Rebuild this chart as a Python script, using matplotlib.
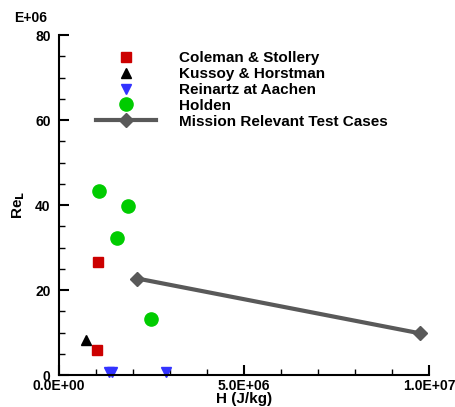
import matplotlib
matplotlib.use("Agg")
import matplotlib.pyplot as plt
from matplotlib.ticker import MultipleLocator, FuncFormatter

plt.rcParams['font.family'] = ['Liberation Sans', 'DejaVu Sans']
plt.rcParams['font.weight'] = 'bold'

# enthalpy H (J/kg) and Reynolds number Re_L (millions)
coleman_h = [1.06e6, 1.04e6]
coleman_re = [26.5, 6.0]
kussoy_h = [0.74e6]
kussoy_re = [8.2]
reinartz_h = [1.34e6, 1.42e6, 2.89e6]
reinartz_re = [0.7, 0.7, 0.7]
holden_h = [1.08e6, 1.87e6, 1.57e6, 2.49e6]
holden_re = [43.4, 39.8, 32.2, 13.1]
mission_h = [2.12e6, 9.76e6]
mission_re = [22.7, 9.8]

fig = plt.figure(figsize=(4.56, 4.07), dpi=100)
ax = fig.add_axes([0.1294, 0.0786, 0.8114, 0.8354])

ax.plot(coleman_h, coleman_re, 's', color='#cc0000', ms=6.5, ls='none',
        label='Coleman & Stollery', clip_on=False)
ax.plot(kussoy_h, kussoy_re, '^', color='black', ms=7.5, ls='none',
        label='Kussoy & Horstman', clip_on=False)
ax.plot(reinartz_h, reinartz_re, 'v', color='#3333ff', ms=7.5, ls='none',
        label='Reinartz at Aachen', clip_on=False)
ax.plot(holden_h, holden_re, 'o', color='#00cc00', ms=9.5, ls='none',
        label='Holden', clip_on=False)
ax.plot(mission_h, mission_re, 'D-', color='#595959', ms=7, lw=3,
        label='Mission Relevant Test Cases', clip_on=False)

ax.set_xlim(0, 1.0e7)
ax.set_ylim(0, 80)
ax.xaxis.set_major_locator(MultipleLocator(5e6))
ax.xaxis.set_minor_locator(MultipleLocator(1e6))
ax.yaxis.set_major_locator(MultipleLocator(20))
ax.yaxis.set_minor_locator(MultipleLocator(5))

ax.xaxis.set_major_formatter(FuncFormatter(lambda v, p: '%.1E' % v))
ax.yaxis.set_major_formatter(FuncFormatter(lambda v, p: '%d' % v))

ax.spines['top'].set_visible(False)
ax.spines['right'].set_visible(False)
ax.spines['left'].set_linewidth(1.5)
ax.spines['bottom'].set_linewidth(1.5)
ax.tick_params(which='major', direction='in', length=7, width=1.5,
               labelsize=10)
ax.tick_params(axis='x', which='major', pad=3)
ax.tick_params(axis='y', which='major', pad=6)
ax.tick_params(which='minor', direction='in', length=4, width=1)
for lbl in ax.get_xticklabels() + ax.get_yticklabels():
    lbl.set_fontweight('bold')

ax.set_xlabel('H (J/kg)', fontsize=11, fontweight='bold', labelpad=-1)
ax.set_ylabel('Re$_\\mathbf{L}$', fontsize=11, fontweight='bold', labelpad=6)
fig.text(0.03, (407 - 18) / 407, 'E+06', fontsize=10, fontweight='bold',
         va='center')

leg = ax.legend(loc='upper left', bbox_to_anchor=(0.1, 0.952), frameon=False,
                fontsize=11, handlelength=3.9, labelspacing=0.12,
                handletextpad=1.5, borderaxespad=0, borderpad=0)
for t in leg.get_texts():
    t.set_fontweight('bold')

fig.savefig('out.png', dpi=100)
